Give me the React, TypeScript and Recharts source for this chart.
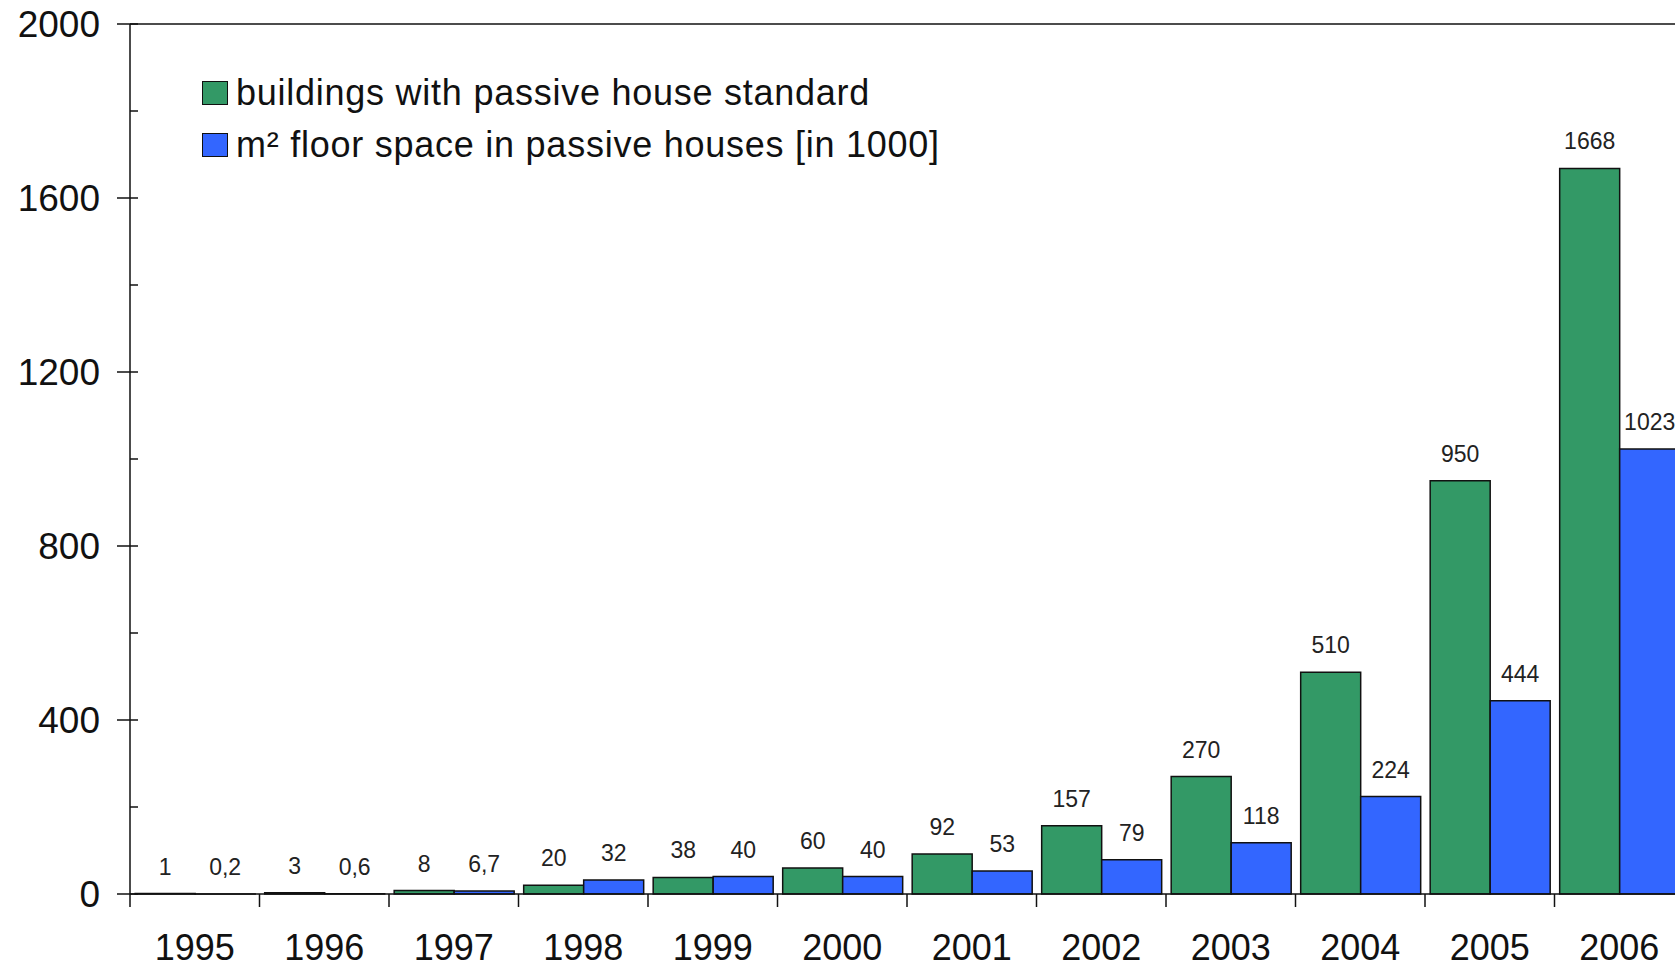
import { BarChart, Bar, XAxis, YAxis, LabelList, ReferenceLine } from 'recharts';

const years = ['1995', '1996', '1997', '1998', '1999', '2000', '2001', '2002', '2003', '2004', '2005', '2006'];
const buildings = [1, 3, 8, 20, 38, 60, 92, 157, 270, 510, 950, 1668];
const floorSpace = [0.2, 0.6, 6.7, 32, 40, 40, 53, 79, 118, 224, 444, 1023];
const yTicks = [0, 200, 400, 600, 800, 1000, 1200, 1400, 1600, 1800, 2000];

const series = [
  { key: 'buildings', name: 'buildings with passive house standard', color: '#339966' },
  { key: 'floorSpace', name: 'm² floor space in passive houses [in 1000]', color: '#3366ff' },
];

const data = years.map((year, i) => ({ year, buildings: buildings[i], floorSpace: floorSpace[i] }));

const FONT = '"Liberation Sans", Arial, sans-serif';
const PLOT_LEFT = 130;
const BAND = 129.5;
const CHART_W = Math.ceil(PLOT_LEFT + BAND * years.length);

function YTick(props: any) {
  const { x, y, payload } = props;
  const major = payload.value % 400 === 0;
  return (
    <g>
      <line x1={major ? x - 13 : x} x2={x + 8} y1={y} y2={y} stroke="#111" strokeWidth={1.5} />
      {major && (
        <text x={x - 30} y={y} dy="0.35em" textAnchor="end" fontSize={37} fontFamily={FONT} fill="#111">
          {payload.value}
        </text>
      )}
    </g>
  );
}

function XTick(props: any) {
  const { x, y, payload } = props;
  const left = x - BAND / 2;
  return (
    <g>
      <line x1={left} x2={left} y1={y} y2={y + 13} stroke="#111" strokeWidth={1.5} />
      <text x={x} y={y + 53} dy="0.35em" textAnchor="middle" fontSize={36} fontFamily={FONT} fill="#111">
        {payload.value}
      </text>
    </g>
  );
}

const fmt = (v: any) => String(v).replace('.', ',');

export default function App() {
  return (
    <div
      style={{
        position: 'absolute',
        left: 0,
        top: 0,
        width: 1675,
        height: 967,
        overflow: 'hidden',
        background: '#fff',
      }}
    >
      <BarChart
        width={CHART_W}
        height={967}
        data={data}
        margin={{ top: 24, right: 0, left: 0, bottom: 13 }}
        barCategoryGap="4%"
        barGap={0}
      >
        <XAxis
          dataKey="year"
          height={60}
          tickLine={false}
          tickSize={0}
          tickMargin={0}
          axisLine={{ stroke: '#111', strokeWidth: 1.5 }}
          tick={<XTick />}
          interval={0}
        />
        <YAxis
          width={PLOT_LEFT}
          domain={[0, 2000]}
          ticks={yTicks}
          interval={0}
          tickLine={false}
          tickSize={0}
          tickMargin={0}
          axisLine={{ stroke: '#111', strokeWidth: 1.5 }}
          tick={<YTick />}
        />
        <ReferenceLine y={2000} stroke="#111" strokeWidth={1.5} />
        {series.map((s) => (
          <Bar
            key={s.key}
            dataKey={s.key}
            name={s.name}
            fill={s.color}
            stroke="#111"
            strokeWidth={1.5}
            isAnimationActive={false}
          >
            <LabelList
              dataKey={s.key}
              position="top"
              offset={19}
              formatter={fmt}
              fontSize={23}
              fontFamily={FONT}
              fill="#222"
            />
          </Bar>
        ))}
      </BarChart>
      <div
        style={{
          position: 'absolute',
          left: 202,
          top: 67,
          fontFamily: FONT,
          fontSize: 36,
          letterSpacing: 0.75,
          color: '#111',
        }}
      >
        {series.map((s) => (
          <div key={s.key} style={{ display: 'flex', alignItems: 'center', height: 52 }}>
            <span
              style={{
                display: 'inline-block',
                width: 24,
                height: 22,
                background: s.color,
                border: '1.5px solid #111',
                marginRight: 8,
              }}
            />
            <span>{s.name}</span>
          </div>
        ))}
      </div>
    </div>
  );
}
